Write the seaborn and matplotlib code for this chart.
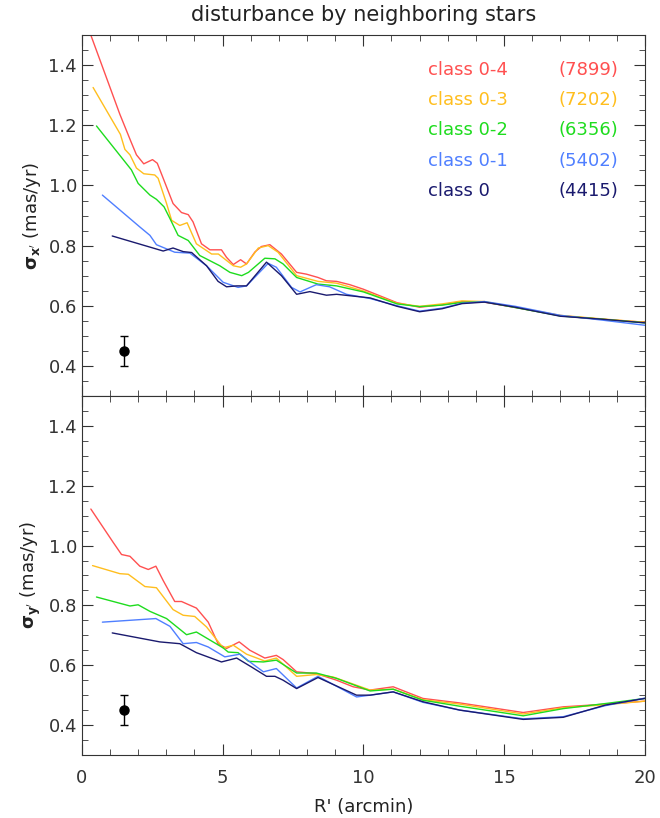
import numpy as np
import pandas as pd
import seaborn as sns
import matplotlib.pyplot as plt

# class labels and star counts
classes = ["class 0-4", "class 0-3", "class 0-2", "class 0-1", "class 0"]
counts = ["(7899)", "(7202)", "(6356)", "(5402)", "(4415)"]
colors = ["#ff5050", "#ffbe1e", "#1edc1e", "#4f7fff", "#1a1a6e"]

# upper panel: sigma_x' vs R'
rx_04 = [0.32, 1.35, 1.74, 1.94, 2.2, 2.51, 2.68, 2.89, 3.24, 3.54, 3.78, 3.95, 4.25, 4.55, 4.96, 5.14, 5.38, 5.64, 5.85, 6.15, 6.38, 6.68, 7.09, 7.63, 7.98, 8.39, 8.69, 9.05, 9.52, 10.0, 11.2, 12.0, 12.8, 13.5, 14.3, 15.4, 17.0, 18.5, 20.0]
sx_04 = [1.50, 1.237, 1.147, 1.102, 1.072, 1.086, 1.074, 1.024, 0.94, 0.91, 0.903, 0.879, 0.806, 0.786, 0.786, 0.761, 0.737, 0.753, 0.739, 0.779, 0.797, 0.803, 0.772, 0.711, 0.705, 0.694, 0.683, 0.681, 0.67, 0.655, 0.61, 0.595, 0.603, 0.614, 0.612, 0.594, 0.567, 0.555, 0.545]
rx_03 = [0.4, 1.37, 1.53, 1.71, 1.94, 2.2, 2.59, 2.71, 3.01, 3.19, 3.48, 3.74, 4.07, 4.61, 4.85, 5.38, 5.64, 5.85, 6.27, 6.62, 6.97, 7.63, 8.39, 9.05, 10.0, 11.2, 12.0, 12.8, 13.5, 14.3, 15.4, 17.0, 18.5, 20.0]
sx_03 = [1.326, 1.17, 1.12, 1.102, 1.058, 1.039, 1.035, 1.024, 0.94, 0.884, 0.867, 0.876, 0.806, 0.772, 0.772, 0.733, 0.728, 0.739, 0.792, 0.80, 0.778, 0.70, 0.681, 0.675, 0.649, 0.608, 0.598, 0.606, 0.616, 0.614, 0.595, 0.568, 0.556, 0.545]
rx_02 = [0.52, 1.76, 2.0, 2.42, 2.65, 2.92, 3.13, 3.42, 3.78, 4.19, 4.9, 5.26, 5.68, 5.92, 6.5, 6.86, 7.15, 7.63, 8.39, 9.05, 10.0, 11.2, 12.0, 12.8, 13.5, 14.3, 15.4, 17.0, 18.5, 20.0]
sx_02 = [1.198, 1.052, 1.007, 0.968, 0.954, 0.929, 0.89, 0.834, 0.817, 0.767, 0.733, 0.711, 0.70, 0.711, 0.758, 0.756, 0.739, 0.694, 0.672, 0.666, 0.646, 0.606, 0.597, 0.602, 0.611, 0.613, 0.594, 0.566, 0.555, 0.543]
rx_01 = [0.73, 2.06, 2.42, 2.65, 3.3, 3.84, 4.43, 5.02, 5.55, 5.85, 6.62, 6.91, 7.45, 7.75, 8.33, 8.8, 9.4, 10.24, 11.2, 12.0, 12.8, 13.5, 14.3, 15.4, 17.0, 18.5, 20.0]
sx_01 = [0.968, 0.862, 0.834, 0.803, 0.778, 0.775, 0.733, 0.678, 0.661, 0.666, 0.741, 0.728, 0.661, 0.646, 0.67, 0.663, 0.638, 0.624, 0.60, 0.582, 0.592, 0.608, 0.614, 0.598, 0.568, 0.552, 0.535]
rx_0 = [1.08, 2.89, 3.24, 3.6, 3.9, 4.43, 4.84, 5.14, 5.5, 5.85, 6.56, 7.09, 7.63, 8.1, 8.69, 9.05, 10.24, 11.2, 12.0, 12.8, 13.5, 14.3, 15.4, 17.0, 18.5, 20.0]
sx_0 = [0.832, 0.782, 0.792, 0.78, 0.777, 0.733, 0.681, 0.663, 0.666, 0.666, 0.745, 0.70, 0.638, 0.647, 0.635, 0.638, 0.626, 0.598, 0.58, 0.59, 0.607, 0.612, 0.595, 0.565, 0.555, 0.543]

# lower panel: sigma_y' vs R'
ry_04 = [0.32, 1.11, 1.41, 1.71, 2.06, 2.36, 2.63, 2.89, 3.3, 3.54, 4.07, 4.49, 4.84, 5.14, 5.59, 5.97, 6.5, 6.91, 7.15, 7.63, 8.33, 9.05, 9.64, 10.24, 11.06, 12.12, 13.43, 15.68, 17.1, 18.6, 20.0]
sy_04 = [1.122, 1.011, 0.97, 0.964, 0.931, 0.92, 0.931, 0.883, 0.813, 0.813, 0.791, 0.744, 0.672, 0.656, 0.678, 0.65, 0.624, 0.633, 0.619, 0.578, 0.572, 0.55, 0.528, 0.517, 0.528, 0.489, 0.474, 0.442, 0.461, 0.47, 0.48]
ry_03 = [0.38, 1.35, 1.65, 2.24, 2.65, 3.24, 3.6, 4.01, 4.43, 5.02, 5.38, 5.85, 6.5, 6.91, 7.63, 8.33, 8.92, 10.24, 11.06, 12.12, 13.43, 15.68, 17.1, 18.6, 20.0]
sy_03 = [0.933, 0.906, 0.904, 0.863, 0.859, 0.786, 0.767, 0.763, 0.728, 0.658, 0.667, 0.637, 0.614, 0.624, 0.563, 0.569, 0.561, 0.517, 0.52, 0.485, 0.47, 0.437, 0.458, 0.468, 0.48]
ry_02 = [0.52, 1.71, 2.0, 2.42, 3.01, 3.72, 4.07, 5.02, 5.2, 5.55, 5.92, 6.45, 6.91, 7.63, 8.33, 9.05, 10.24, 11.06, 12.12, 13.43, 15.68, 17.1, 18.6, 20.0]
sy_02 = [0.828, 0.798, 0.802, 0.78, 0.756, 0.702, 0.711, 0.658, 0.644, 0.642, 0.613, 0.611, 0.617, 0.574, 0.574, 0.556, 0.514, 0.52, 0.483, 0.463, 0.431, 0.455, 0.472, 0.489]
ry_01 = [0.73, 2.63, 3.13, 3.6, 4.07, 4.49, 5.08, 5.62, 5.97, 6.45, 6.91, 7.63, 8.39, 9.76, 10.24, 11.06, 12.12, 13.43, 15.68, 17.1, 18.6, 20.0]
sy_01 = [0.744, 0.756, 0.73, 0.672, 0.676, 0.661, 0.628, 0.637, 0.611, 0.578, 0.589, 0.524, 0.563, 0.494, 0.50, 0.511, 0.476, 0.45, 0.421, 0.428, 0.465, 0.49]
ry_0 = [1.08, 2.77, 3.48, 4.07, 4.96, 5.5, 6.03, 6.56, 6.86, 7.15, 7.63, 8.39, 9.76, 10.24, 11.06, 12.12, 13.43, 15.68, 17.1, 18.6, 20.0]
sy_0 = [0.708, 0.678, 0.672, 0.642, 0.611, 0.624, 0.594, 0.563, 0.563, 0.55, 0.522, 0.559, 0.50, 0.50, 0.511, 0.478, 0.45, 0.419, 0.426, 0.467, 0.489]

# typical error bar
err_r = 1.5
err_s = 0.45
err_e = 0.05


def long_frame(rs, ss):
    parts = []
    for name, r, s in zip(classes, rs, ss):
        parts.append(pd.DataFrame({"R": r, "sigma": s, "cls": name}))
    return pd.concat(parts, ignore_index=True)


df_x = long_frame([rx_04, rx_03, rx_02, rx_01, rx_0], [sx_04, sx_03, sx_02, sx_01, sx_0])
df_y = long_frame([ry_04, ry_03, ry_02, ry_01, ry_0], [sy_04, sy_03, sy_02, sy_01, sy_0])

sns.set_style("ticks")
plt.rcParams["font.family"] = ["DejaVu Sans"]
plt.rcParams["mathtext.fontset"] = "dejavusans"

fig = plt.figure(figsize=(6.6, 8.18), dpi=100)
ax1 = fig.add_axes([0.124, 0.516, 0.853, 0.441])
ax2 = fig.add_axes([0.124, 0.077, 0.853, 0.439])

pal = dict(zip(classes, colors))
for ax, df, lab in [(ax1, df_x, r"$\mathbf{\sigma_{x'}}$ (mas/yr)"),
                    (ax2, df_y, r"$\mathbf{\sigma_{y'}}$ (mas/yr)")]:
    sns.lineplot(data=df, x="R", y="sigma", hue="cls", palette=pal, sort=False,
                 estimator=None, linewidth=1.0, legend=False, ax=ax)
    ax.errorbar([err_r], [err_s], yerr=[err_e], fmt="o", color="black",
                markersize=6.5, capsize=3, elinewidth=1)
    ax.set_xlim(0, 20)
    ax.set_ylim(0.3, 1.5)
    ax.set_yticks([0.4, 0.6, 0.8, 1.0, 1.2, 1.4])
    ax.set_yticks(np.arange(0.3, 1.5, 0.05), minor=True)
    ax.set_xticks([0, 5, 10, 15, 20])
    ax.set_xticks(np.arange(0, 21, 1), minor=True)
    ax.tick_params(which="both", direction="in", top=True, right=True,
                   labelsize=13, colors="#333333")
    ax.tick_params(which="major", length=8)
    ax.tick_params(which="minor", length=4)
    ax.tick_params(axis="x", pad=10)
    ax.set_ylabel(lab, fontsize=13, color="#222222")
    for sp in ax.spines.values():
        sp.set_color("#333333")

ax1.tick_params(labelbottom=False)
ax1.set_xlabel("")
ax2.set_xlabel("R' (arcmin)", fontsize=13, color="#222222", labelpad=8)
ax1.set_title("disturbance by neighboring stars", fontsize=15, color="#222222", pad=10)

# colored labels in upper panel
y_rows = [1.383, 1.283, 1.183, 1.083, 0.983]
for name, cnt, col, yy in zip(classes, counts, colors, y_rows):
    ax1.text(12.3, yy, name, color=col, fontsize=13, va="center")
    ax1.text(19.05, yy, cnt, color=col, fontsize=13, va="center", ha="right")

fig.savefig("out.png", dpi=100)
